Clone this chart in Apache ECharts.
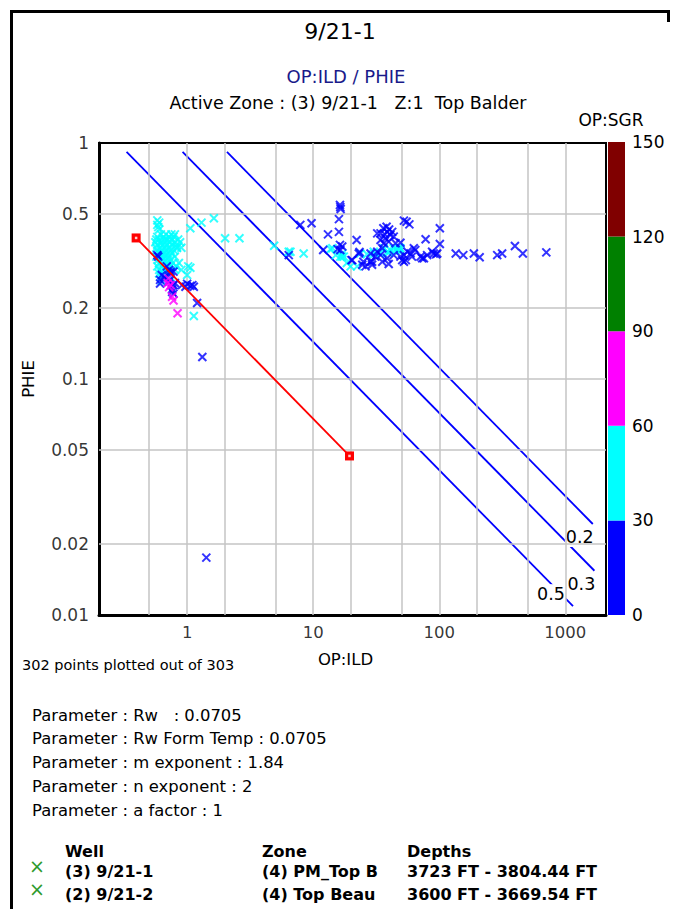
<!DOCTYPE html>
<html>
<head>
<meta charset="utf-8">
<script src="https://cdn.jsdelivr.net/npm/echarts@6/dist/echarts.min.js"></script>
<style>
  html, body { margin: 0; padding: 0; background: #fff; }
  #chart { width: 675px; height: 909px; }
</style>
</head>
<body>
<div id="chart"></div>
<script>
const FONT = '"DejaVu Sans", Verdana, sans-serif';

// Axis ranges and grid / tick values (OP:ILD on x, PHIE on y, both log10)
const xRange = [0.2, 2100];
const yRange = [0.01, 1];
const xGridValues = [0.5, 1, 2, 5, 10, 20, 50, 100, 200, 500, 1000];
const yGridValues = [0.5, 0.2, 0.1, 0.05, 0.02];
const xTickLabels = [1, 10, 100, 1000];
const yTickLabels = [1, 0.5, 0.2, 0.1, 0.05, 0.02, 0.01];

// OP:SGR colour scale
const sgrBandColors = ['#0000ff', '#00ffff', '#ff00ff', '#008000', '#800000'];
const sgrBandSizes = [30, 30, 30, 30, 30];

// Samples [OP:ILD, PHIE], OP:SGR 0-30
const lowSgrPoints = [
  [0.58, 0.335], [0.59, 0.33], [0.69, 0.30], [0.72, 0.29], [0.74, 0.285], [0.78, 0.285],
  [0.74, 0.28], [0.63, 0.276], [0.61, 0.263], [0.61, 0.254], [0.66, 0.27], [0.71, 0.258],
  [0.72, 0.26], [0.78, 0.25], [0.80, 0.255], [0.91, 0.25], [0.97, 0.246], [1.0, 0.253],
  [1.06, 0.248], [1.10, 0.25], [1.13, 0.246], [0.76, 0.234], [0.78, 0.23], [0.76, 0.24],
  [1.20, 0.21], [1.32, 0.124], [1.42, 0.0175],
  [6.4, 0.335], [7.9, 0.45], [9.7, 0.457], [12.0, 0.352], [13.1, 0.41],
  [16.3, 0.546], [16.4, 0.535], [16.5, 0.525], [16.0, 0.476], [16.0, 0.42],
  [16.3, 0.37], [15.6, 0.355], [17.0, 0.364], [16.4, 0.352],
  [22.1, 0.388], [20.1, 0.319], [20.4, 0.319], [24.5, 0.305], [25.0, 0.314], [26.0, 0.30],
  [28.5, 0.314], [29.3, 0.305], [23.3, 0.345], [23.0, 0.34],
  [32.2, 0.414], [36.0, 0.435], [38.2, 0.442], [40.9, 0.408], [37.5, 0.395], [43.5, 0.401],
  [39.7, 0.382], [36.3, 0.376], [45.0, 0.376], [34.2, 0.388], [38.6, 0.42], [42.3, 0.42],
  [34.2, 0.414], [37.0, 0.41], [40.0, 0.43],
  [32.2, 0.346], [35.3, 0.358], [34.2, 0.335], [38.6, 0.325], [35.3, 0.314], [39.7, 0.307],
  [29.3, 0.314], [28.5, 0.34], [31.0, 0.33], [43.5, 0.335],
  [52.4, 0.469], [55.0, 0.464], [57.9, 0.452], [49.2, 0.378],
  [52.4, 0.335], [54.3, 0.319], [55.9, 0.346], [59.1, 0.34], [64.5, 0.352], [60.7, 0.33],
  [52.4, 0.314], [49.2, 0.33], [62.8, 0.358], [71.0, 0.33], [75.5, 0.325], [50.8, 0.319],
  [77.9, 0.391], [73.2, 0.325], [80.1, 0.335], [87.7, 0.346], [90.3, 0.34], [94.3, 0.338],
  [96.3, 0.34], [101, 0.435], [101, 0.373],
  [135, 0.34], [155, 0.335], [188, 0.34], [209, 0.328], [288, 0.335], [315, 0.34],
  [398, 0.366], [460, 0.34], [706, 0.344]
];

// Samples [OP:ILD, PHIE], OP:SGR 30-60
const midSgrPoints = [
  [0.58, 0.47], [0.60, 0.46], [0.58, 0.45], [0.59, 0.44], [0.60, 0.43],
  [0.62, 0.41], [0.68, 0.41], [0.75, 0.41], [0.80, 0.41],
  [0.58, 0.40], [0.65, 0.40], [0.72, 0.40], [0.78, 0.40],
  [0.57, 0.39], [0.60, 0.39], [0.66, 0.39], [0.70, 0.39], [0.76, 0.39], [0.85, 0.39],
  [0.56, 0.38], [0.62, 0.38], [0.67, 0.38], [0.73, 0.38], [0.80, 0.38], [0.88, 0.38],
  [0.58, 0.37], [0.64, 0.37], [0.69, 0.37], [0.75, 0.37], [0.82, 0.37],
  [0.57, 0.36], [0.61, 0.36], [0.66, 0.36], [0.72, 0.36], [0.83, 0.36], [0.90, 0.36],
  [0.58, 0.35], [0.63, 0.35], [0.68, 0.35], [0.74, 0.35], [0.79, 0.35],
  [0.60, 0.34], [0.65, 0.34], [0.70, 0.34], [0.76, 0.34],
  [0.57, 0.33], [0.62, 0.33], [0.67, 0.33], [0.72, 0.33], [0.80, 0.33],
  [0.59, 0.32], [0.64, 0.32], [0.69, 0.32], [0.74, 0.32],
  [0.60, 0.31], [0.65, 0.31], [0.70, 0.31], [0.77, 0.31], [0.86, 0.31],
  [0.58, 0.30], [0.63, 0.30], [0.68, 0.30], [0.74, 0.30], [0.82, 0.30], [1.02, 0.30], [1.06, 0.296],
  [0.60, 0.29], [0.66, 0.29], [0.72, 0.29], [0.80, 0.29], [0.90, 0.29],
  [0.60, 0.28], [0.65, 0.28], [0.70, 0.28], [1.0, 0.276],
  [0.62, 0.27], [0.67, 0.27], [0.74, 0.27], [0.63, 0.26], [0.70, 0.26],
  [0.83, 0.36], [1.13, 0.185], [1.06, 0.435], [1.30, 0.46], [1.63, 0.48],
  [2.0, 0.395], [2.6, 0.395], [4.9, 0.367], [6.4, 0.346], [6.6, 0.346], [8.4, 0.34],
  [13.7, 0.355], [14.2, 0.358], [15.1, 0.335], [16.4, 0.33], [17.0, 0.33], [17.5, 0.33],
  [17.0, 0.34], [18.5, 0.31], [19.8, 0.30], [22.3, 0.30], [23.6, 0.34], [26.7, 0.338],
  [30.2, 0.346], [31.0, 0.34], [34.2, 0.34], [36.3, 0.358], [38.6, 0.346], [39.7, 0.343],
  [40.9, 0.352], [43.5, 0.358], [45.0, 0.355], [46.3, 0.352], [47.7, 0.361], [49.2, 0.358], [49.2, 0.35]
];

// Samples [OP:ILD, PHIE], OP:SGR 60-90
const highSgrPoints = [
  [0.71, 0.267], [0.74, 0.25], [0.72, 0.245], [0.70, 0.255], [0.76, 0.223], [0.78, 0.215], [0.84, 0.19]
];

// Water saturation lines (Archie, Rw 0.0705, m 1.84, n 2, a 1)
const swOneLine = [[0.394, 0.396], [19.4, 0.0472]];
const swLines = [
  { sw: '0.2', points: [[2.07, 0.916], [1650, 0.0243]], offset: [-36, 13] },
  { sw: '0.3', points: [[0.92, 0.916], [1700, 0.0154]], offset: [-36, 13] },
  { sw: '0.5', points: [[0.331, 0.916], [1150, 0.0109]], offset: [-45, -12] }
];

const crossSymbol = 'path://M0 0L10 10M10 0L0 10';

function crossSeries(name, data, color) {
  return {
    name, type: 'scatter', data, z: 5,
    symbol: crossSymbol, symbolSize: 8,
    itemStyle: { color, borderColor: color, borderWidth: 2 },
    silent: true
  };
}

const chart = echarts.init(document.getElementById('chart'), null, { renderer: 'svg' });

const txt = (text, x, y, size, opts = {}) => ({
  type: 'text', x, y, silent: true,
  style: Object.assign({
    text, fontSize: size, fontFamily: FONT, fill: '#000',
    align: 'left', verticalAlign: 'middle'
  }, opts)
});

const option = {
  animation: false,
  backgroundColor: '#fff',
  grid: [
    { left: 99, right: 69, top: 143, height: 472, show: true, borderColor: '#000', borderWidth: 2, backgroundColor: '#fff' },
    { left: 608, width: 17, top: 142, height: 473 }
  ],
  xAxis: [
    {
      type: 'log', logBase: 10, min: xRange[0], max: xRange[1], gridIndex: 0,
      axisLine: { onZero: false, lineStyle: { color: '#000', width: 3 } },
      axisTick: { show: false }, axisLabel: { show: false }, splitLine: { show: false },
      name: 'OP:ILD', nameLocation: 'middle', nameGap: 36,
      nameTextStyle: { fontFamily: FONT, fontSize: 16.5, color: '#000', padding: [0, 14, 0, 0] }
    },
    { type: 'category', gridIndex: 1, data: ['OP:SGR'], show: false }
  ],
  yAxis: [
    {
      type: 'log', logBase: 10, min: yRange[0], max: yRange[1], gridIndex: 0,
      axisLine: { onZero: false, lineStyle: { color: '#000', width: 3 } },
      axisTick: { show: false }, axisLabel: { show: false }, splitLine: { show: false },
      name: 'PHIE', nameLocation: 'middle', nameGap: 62,
      nameTextStyle: { fontFamily: FONT, fontSize: 16.5, color: '#000' }
    },
    {
      type: 'value', gridIndex: 1, min: 0, max: 150, interval: 30, position: 'right',
      axisLine: { show: false }, axisTick: { show: false }, splitLine: { show: false },
      axisLabel: { margin: 7, fontFamily: FONT, fontSize: 17, color: '#000' },
      name: 'OP:SGR', nameLocation: 'end', nameGap: 14,
      nameTextStyle: { fontFamily: FONT, fontSize: 17, color: '#000', padding: [0, 28, 0, 0] }
    }
  ],
  series: [
    // background grid lines
    {
      type: 'scatter', data: [], xAxisIndex: 0, yAxisIndex: 0, z: 1, silent: true,
      markLine: {
        silent: true, symbol: ['none', 'none'], animation: false,
        label: { show: false },
        lineStyle: { color: '#c4c4c4', width: 1.5, type: 'solid' },
        data: xGridValues.map(v => ({ xAxis: v })).concat(yGridValues.map(v => ({ yAxis: v })))
      }
    },
    // tick labels
    {
      type: 'scatter', xAxisIndex: 0, yAxisIndex: 0, z: 3, silent: true, clip: false,
      symbolSize: 0,
      data: yTickLabels.map(v => [xRange[0], v]),
      label: { show: true, position: 'left', distance: 10, formatter: p => String(p.value[1]),
               fontFamily: FONT, fontSize: 17, color: '#000' }
    },
    {
      type: 'scatter', xAxisIndex: 0, yAxisIndex: 0, z: 3, silent: true, clip: false,
      symbolSize: 0,
      data: xTickLabels.map(v => [v, yRange[0]]),
      label: { show: true, position: 'bottom', distance: 9, formatter: p => String(p.value[0]),
               fontFamily: FONT, fontSize: 16.5, color: '#000' }
    },
    // saturation lines
    ...swLines.map(l => ({
      type: 'line', data: l.points, z: 3, silent: true, showSymbol: false, symbol: 'none',
      lineStyle: { color: '#0000ff', width: 1.8 },
      endLabel: {
        show: true, formatter: l.sw, offset: l.offset,
        fontFamily: FONT, fontSize: 17.5, color: '#000', backgroundColor: '#fff', padding: [1, 1]
      }
    })),
    crossSeries('SGR 30-60', midSgrPoints, '#00ffff'),
    crossSeries('SGR 0-30', lowSgrPoints, '#0000ff'),
    crossSeries('SGR 60-90', highSgrPoints, '#ff00ff'),
    // Sw = 1 line with end handles
    {
      type: 'line', data: swOneLine, z: 6, silent: true,
      lineStyle: { color: '#ff0000', width: 1.8 },
      symbol: 'rect', symbolSize: 9, showSymbol: true,
      itemStyle: { color: '#ff0000', borderWidth: 0 }
    },
    {
      type: 'scatter', data: swOneLine, z: 7, silent: true,
      symbol: 'rect', symbolSize: 2.5, itemStyle: { color: '#ffffff' }
    },
    // OP:SGR colour bar
    ...sgrBandSizes.map((v, i) => ({
      type: 'bar', xAxisIndex: 1, yAxisIndex: 1, stack: 'sgr', data: [v],
      barWidth: '100%', silent: true, itemStyle: { color: sgrBandColors[i] }
    }))
  ],
  graphic: [
    { type: 'line', silent: true, shape: { x1: 11.5, y1: 10, x2: 11.5, y2: 909 }, style: { stroke: '#000', lineWidth: 3 } },
    { type: 'line', silent: true, shape: { x1: 10, y1: 11.5, x2: 670, y2: 11.5 }, style: { stroke: '#000', lineWidth: 3 } },
    { type: 'line', silent: true, shape: { x1: 668.5, y1: 10, x2: 668.5, y2: 22 }, style: { stroke: '#000', lineWidth: 3 } },
    txt('9/21-1', 340, 31, 22, { align: 'center' }),
    txt('OP:ILD / PHIE', 346, 76, 18, { align: 'center', fill: '#1a1a8a' }),
    txt('Active Zone : (3) 9/21-1\u00a0\u00a0\u00a0Z:1\u00a0 Top Balder', 348, 103, 17.5, { align: 'center' }),
    txt('302 points plotted out of 303', 22, 665, 14.5),
    txt('Parameter : Rw\u00a0\u00a0 : 0.0705', 32, 715, 16.4),
    txt('Parameter : Rw Form Temp : 0.0705', 32, 738, 16.4),
    txt('Parameter : m exponent : 1.84', 32, 762, 16.4),
    txt('Parameter : n exponent : 2', 32, 786, 16.4),
    txt('Parameter : a factor : 1', 32, 810, 16.4),
    txt('Well', 65, 851, 16, { fontWeight: 'bold' }),
    txt('Zone', 262, 851, 16, { fontWeight: 'bold' }),
    txt('Depths', 407, 851, 16, { fontWeight: 'bold' }),
    txt('\u00d7', 37, 866, 19, { align: 'center', fill: '#2e9a2e' }),
    txt('(3) 9/21-1', 65, 871, 16, { fontWeight: 'bold' }),
    txt('(4) PM_Top B', 262, 871, 16, { fontWeight: 'bold' }),
    txt('3723 FT - 3804.44 FT', 407, 871, 16, { fontWeight: 'bold' }),
    txt('\u00d7', 37, 889, 19, { align: 'center', fill: '#2e9a2e' }),
    txt('(2) 9/21-2', 65, 894, 16, { fontWeight: 'bold' }),
    txt('(4) Top Beau', 262, 894, 16, { fontWeight: 'bold' }),
    txt('3600 FT - 3669.54 FT', 407, 894, 16, { fontWeight: 'bold' })
  ]
};

chart.setOption(option);
</script>
</body>
</html>
